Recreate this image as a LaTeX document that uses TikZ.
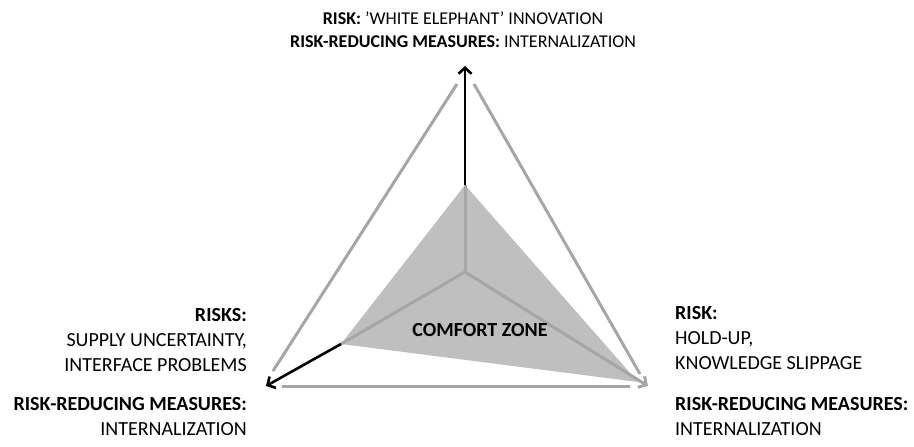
\documentclass[tikz,border=0pt]{standalone}
\usepackage{fontspec}
\setmainfont{Carlito}
\usetikzlibrary{arrows.meta}
\definecolor{zonegray}{HTML}{BFBFBF}
\definecolor{edgegray}{HTML}{A6A6A6}

\begin{document}
\begin{tikzpicture}[x=1pt,y=-1pt,
  edge/.style={edgegray,line width=3pt},
  riskarrow/.style={black,line width=2.6pt,-{Straight Barb[length=6pt,width=13pt]}},
  label/.style={inner sep=0pt,font=\fontsize{20}{25}\selectfont}]
\useasboundingbox (0,0) rectangle (914,447);

% corners of the triangle and the centre
\coordinate (top) at (465,66);
\coordinate (left) at (266,386);
\coordinate (right) at (648,386);
\coordinate (centre) at (465,272);

% comfort zone
\coordinate (ztop) at (465,185);
\coordinate (zleft) at (341,344);
\coordinate (zright) at (638,382);
\fill[zonegray] (ztop) -- (zleft) -- (zright) -- cycle;

% outer edges
\draw[edge] (457,84) -- (273,371);
\draw[edge] (474,84) -- (640,374);
\draw[edge] (282,386) -- (630,386);

% axes
\draw[edge] (centre) -- (ztop);
\draw[edge] (centre) -- (zleft);
\draw[edge,-{Straight Barb[length=6pt,width=13pt]}] (centre) -- (right);
\draw[riskarrow] (ztop) -- (top);
\draw[riskarrow] (zleft) -- (left);

\node[font=\fontsize{20}{24}\selectfont\bfseries] (zone) at (480,330) {COMFORT ZONE};

% texts
\node[label,font=\fontsize{18}{23}\selectfont,anchor=north,align=center] (toptext) at (463,12)
  {\textbf{RISK:} ’WHITE ELEPHANT’ INNOVATION\\
   \textbf{RISK-REDUCING MEASURES:} INTERNALIZATION};
\node[label,anchor=north east,align=right] (leftrisk) at (247,308)
  {\textbf{RISKS:}\\SUPPLY UNCERTAINTY,\\INTERFACE PROBLEMS};
\node[label,anchor=north east,align=right] (leftmeas) at (247,397)
  {\textbf{RISK-REDUCING MEASURES:}\\INTERNALIZATION};
\node[label,anchor=north west,align=left] (rightrisk) at (675,306)
  {\textbf{RISK:}\\HOLD-UP,\\KNOWLEDGE SLIPPAGE};
\node[label,anchor=north west,align=left] (rightmeas) at (675,397)
  {\textbf{RISK-REDUCING MEASURES:}\\INTERNALIZATION};
\end{tikzpicture}
\end{document}
